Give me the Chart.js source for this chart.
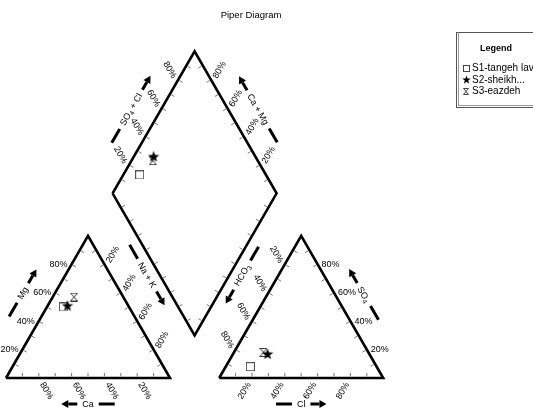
<!DOCTYPE html>
<html><head><meta charset="utf-8">
<script src="https://cdn.jsdelivr.net/npm/chart.js@4.4.1/dist/chart.umd.min.js"></script>
<style>html,body{margin:0;padding:0;background:#fff;overflow:hidden}canvas{display:block}</style>
</head><body>
<canvas id="c" width="533" height="409"></canvas>
<script>
// Sample compositions (% meq/L)
const samples = ['S1-tangeh lav', 'S2-sheikh...', 'S3-eazdeh'];
const ca   = [40, 37, 30];
const mg   = [50, 51, 57];
const naK  = [10, 12, 13];
const cl   = [15, 21, 18];
const so4  = [8, 17, 18];
const hco3 = [77, 62, 64];
const pctTicks = [20, 40, 60, 80];
const tickLabels = ['20%', '40%', '60%', '80%'];

const FONT = '"Liberation Sans", Arial, sans-serif';
const H = Math.sqrt(3) / 2;
const GAP = 0.3;   // space between the two triangles, in triangle-side units

// Piper projections (triangle side = 1)
function cationXY(c, m, n) { const s = c + m + n; return { x: (n + m / 2) / s, y: m / s * H }; }
function anionXY(h, s4, c) { const s = h + s4 + c; return { x: 1 + GAP + (c + s4 / 2) / s, y: s4 / s * H }; }
function diamondXY(nPct, clso4Pct) {
  const t = 1 + GAP + clso4Pct / 100 - nPct / 100;
  return { x: nPct / 100 + t / 2, y: t * H };
}

// Outlines
const leftTri  = [cationXY(100, 0, 0), cationXY(0, 0, 100), cationXY(0, 100, 0), cationXY(100, 0, 0)];
const rightTri = [anionXY(100, 0, 0), anionXY(0, 0, 100), anionXY(0, 100, 0), anionXY(100, 0, 0)];
const dLeft = diamondXY(0, 0), dTop = diamondXY(0, 100), dRight = diamondXY(100, 100), dBottom = diamondXY(100, 0);
const diamond = [dLeft, dTop, dRight, dBottom, dLeft];

// Marker images
function makeSquare(size, color) {
  const c = document.createElement('canvas'); c.width = c.height = size;
  const g = c.getContext('2d'); g.strokeStyle = color; g.lineWidth = 1;
  g.strokeRect(0.5, 0.5, size - 1, size - 1); return c;
}
function makeStar(size) {
  const c = document.createElement('canvas'); c.width = c.height = size;
  const g = c.getContext('2d'); const R = size / 2, r = R * 0.4, cx = size / 2, cy = size / 2 + 0.5;
  g.beginPath();
  for (let i = 0; i < 10; i++) {
    const a = -Math.PI / 2 + i * Math.PI / 5, rr = i % 2 ? r : R;
    g.lineTo(cx + rr * Math.cos(a), cy + rr * Math.sin(a));
  }
  g.closePath(); g.fillStyle = '#000'; g.fill(); return c;
}
function makeHourglass(w, h, color) {
  const c = document.createElement('canvas'); c.width = w; c.height = h;
  const g = c.getContext('2d'); g.strokeStyle = color; g.lineWidth = 1;
  g.beginPath(); g.moveTo(0.5, 0.5); g.lineTo(w - 0.5, 0.5); g.lineTo(0.5, h - 0.5);
  g.lineTo(w - 0.5, h - 0.5); g.closePath(); g.stroke(); return c;
}
const markers = [makeSquare(9, '#555'), makeStar(12), makeHourglass(8, 9, '#333')];
const legendMarkers = [makeSquare(7, '#444'), makeStar(9), makeHourglass(6, 7, '#444')];
const drawOrder = [2, 0, 1];

const sampleSets = samples.map((name, i) => {
  const tot = ca[i] + mg[i] + naK[i], totA = cl[i] + so4[i] + hco3[i];
  return {
    label: name,
    data: [
      cationXY(ca[i], mg[i], naK[i]),
      anionXY(hco3[i], so4[i], cl[i]),
      diamondXY(naK[i] / tot * 100, (cl[i] + so4[i]) / totA * 100)
    ],
    showLine: false,
    pointStyle: markers[i],
    pointRadius: 5,
    order: drawOrder[i]
  };
});
const outline = (pts) => ({ data: pts, showLine: true, pointRadius: 0, borderColor: '#000',
  borderWidth: 2.6, borderJoinStyle: 'miter', fill: false, order: 10, label: '' });

function P(chart, p) {
  return { x: chart.scales.x.getPixelForValue(p.x), y: chart.scales.y.getPixelForValue(p.y) };
}
function lerp(a, b, t) { return { x: a.x + (b.x - a.x) * t, y: a.y + (b.y - a.y) * t }; }

// Rich text with subscripts: [['SO'], ['4', true], [' + Cl']]
function richWidth(ctx, segs) {
  let w = 0;
  segs.forEach(s => { ctx.font = (s[1] ? '6.5px ' : '9px ') + FONT; w += ctx.measureText(s[0]).width; });
  return w;
}
function richDraw(ctx, segs, x, y) {
  segs.forEach(s => {
    ctx.font = (s[1] ? '6.5px ' : '9px ') + FONT;
    ctx.fillText(s[0], x, y + (s[1] ? 2.5 : 0));
    x += ctx.measureText(s[0]).width;
  });
}
function axisTitle(ctx, c, deg, segs, arrowFirst) {
  ctx.save();
  ctx.translate(c.x, c.y); ctx.rotate(deg * Math.PI / 180);
  ctx.textBaseline = 'middle'; ctx.textAlign = 'left'; ctx.fillStyle = '#000';
  const w = richWidth(ctx, segs), L = 16, gap = 5, total = L + gap + w + gap + L;
  let x = -total / 2;
  ctx.strokeStyle = '#000'; ctx.lineWidth = 3;
  const dash = (x0) => { ctx.beginPath(); ctx.moveTo(x0, 0); ctx.lineTo(x0 + L, 0); ctx.stroke(); };
  const arrow = (x0, fwd) => {
    const tip = fwd ? x0 + L : x0, base = fwd ? tip - 7 : tip + 7;
    ctx.beginPath(); ctx.moveTo(fwd ? x0 : x0 + L, 0); ctx.lineTo(base, 0); ctx.stroke();
    ctx.beginPath(); ctx.moveTo(tip, 0); ctx.lineTo(base, -4); ctx.lineTo(base, 4); ctx.closePath(); ctx.fill();
  };
  if (arrowFirst) arrow(x, false); else dash(x);
  x += L + gap; richDraw(ctx, segs, x, 0.5); x += w + gap;
  if (arrowFirst) dash(x); else arrow(x, true);
  ctx.restore();
}

const piperPlugin = {
  id: 'piperDecor',
  afterDraw(chart) {
    const ctx = chart.ctx;
    const cA = P(chart, leftTri[0]), cB = P(chart, leftTri[1]), cApex = P(chart, leftTri[2]);
    const aA = P(chart, rightTri[0]), aB = P(chart, rightTri[1]), aApex = P(chart, rightTri[2]);
    const dl = P(chart, dLeft), dt = P(chart, dTop), dr = P(chart, dRight), db = P(chart, dBottom);

    // small inward ticks every 10 %
    const sides = [[cA, cB, cApex], [cB, cApex, cA], [cApex, cA, cB],
                   [aA, aB, aApex], [aB, aApex, aA], [aApex, aA, aB],
                   [dl, dt, dr], [dt, dr, dl], [dr, db, dt], [db, dl, dt]];
    ctx.save(); ctx.strokeStyle = '#777'; ctx.lineWidth = 1;
    sides.forEach(([a, b, o]) => {
      const dx = b.x - a.x, dy = b.y - a.y, len = Math.hypot(dx, dy);
      let nx = -dy / len, ny = dx / len;
      const mx = (a.x + b.x) / 2, my = (a.y + b.y) / 2;
      if ((o.x - mx) * nx + (o.y - my) * ny < 0) { nx = -nx; ny = -ny; }
      for (let k = 1; k < 10; k++) {
        const p = lerp(a, b, k / 10);
        ctx.beginPath(); ctx.moveTo(p.x + nx * 1.5, p.y + ny * 1.5); ctx.lineTo(p.x + nx * 5, p.y + ny * 5); ctx.stroke();
      }
    });
    ctx.restore();

    // percentage labels
    const labelSide = (a, b, deg, align, off) => {
      pctTicks.forEach((v, i) => {
        const p = lerp(a, b, v / 100);
        ctx.save(); ctx.translate(p.x + off[0], p.y + off[1]); ctx.rotate(deg * Math.PI / 180);
        ctx.font = '9px ' + FONT; ctx.fillStyle = '#000'; ctx.textAlign = align; ctx.textBaseline = 'middle';
        ctx.fillText(tickLabels[i], 0, 0); ctx.restore();
      });
    };
    labelSide(cA, cApex, 0, 'right', [-4, 0]);        // Mg
    labelSide(cB, cA, 60, 'left', [3, 5]);            // Ca
    labelSide(cApex, cB, -60, 'left', [4, -2]);       // Na + K
    labelSide(aApex, aA, 60, 'right', [-4, -2]);      // HCO3
    labelSide(aA, aB, -60, 'right', [-3, 5]);         // Cl
    labelSide(aB, aApex, 0, 'left', [4, 0]);          // SO4
    labelSide(dl, dt, 60, 'right', [-4, -2]);         // SO4 + Cl
    labelSide(dr, dt, -60, 'left', [4, -2]);          // Ca + Mg

    // axis titles
    const mid = (a, b) => lerp(a, b, 0.5);
    const add = (p, nx, ny, k) => ({ x: p.x + nx * k, y: p.y + ny * k });
    let m = mid(cA, cApex);
    axisTitle(ctx, add(m, -0.866, -0.5, 28), -60, [['Mg']], false);
    axisTitle(ctx, { x: cApex.x, y: cA.y + 26 }, 0, [['Ca']], true);
    m = add(add(mid(db, dl), -0.866, 0.5, 11), 0.5, 0.866, 6);
    axisTitle(ctx, m, 60, [['Na + K']], false);
    m = add(add(mid(db, dr), 0.866, 0.5, 11), -0.5, 0.866, 6);
    axisTitle(ctx, m, -60, [['HCO'], ['3', true]], true);
    axisTitle(ctx, { x: aApex.x, y: aA.y + 26 }, 0, [['Cl']], false);
    m = mid(aB, aApex);
    axisTitle(ctx, add(m, 0.866, -0.5, 25), 60, [['SO'], ['4', true]], true);
    m = mid(dl, dt);
    axisTitle(ctx, add(m, -0.866, -0.5, 26), -60, [['SO'], ['4', true], [' + Cl']], false);
    m = mid(dt, dr);
    axisTitle(ctx, add(m, 0.866, -0.5, 26), 60, [['Ca + Mg']], true);

    // chart title
    ctx.save(); ctx.font = '9.5px ' + FONT; ctx.fillStyle = '#000'; ctx.textAlign = 'center';
    ctx.textBaseline = 'middle'; ctx.fillText('Piper Diagram', 251, 15); ctx.restore();

    // legend box
    ctx.save();
    ctx.fillStyle = '#fff'; ctx.fillRect(456, 32, 90, 76);
    ctx.strokeStyle = '#555'; ctx.lineWidth = 1; ctx.strokeRect(456.5, 32.5, 90, 75);
    ctx.strokeStyle = '#999'; ctx.beginPath(); ctx.moveTo(458.5, 32.5); ctx.lineTo(458.5, 105.5); ctx.lineTo(540, 105.5); ctx.stroke();
    ctx.fillStyle = '#000'; ctx.textBaseline = 'middle';
    ctx.font = 'bold 9px ' + FONT; ctx.textAlign = 'center'; ctx.fillText('Legend', 496, 49);
    ctx.font = '10px ' + FONT; ctx.textAlign = 'left';
    samples.forEach((s, i) => {
      const y = 68 + i * 11.5, img = legendMarkers[i];
      ctx.drawImage(img, Math.round(466 - img.width / 2), Math.round(y - img.height / 2));
      ctx.fillText(s, 472, y + 0.5);
    });
    ctx.restore();
  }
};

new Chart(document.getElementById('c'), {
  type: 'scatter',
  data: { datasets: [outline(diamond), outline(leftTri), outline(rightTri), ...sampleSets] },
  options: {
    responsive: false, animation: false, devicePixelRatio: 1,
    layout: { padding: 0, autoPadding: false },
    plugins: { legend: { display: false }, title: { display: false }, tooltip: { enabled: false } },
    scales: {
      x: { type: 'linear', display: false, min: -6 / 164, max: 527 / 164 },
      y: { type: 'linear', display: false, min: -31 / 164, max: 378 / 164 }
    },
    elements: { line: { tension: 0 } }
  },
  plugins: [piperPlugin]
});
</script>
</body></html>
